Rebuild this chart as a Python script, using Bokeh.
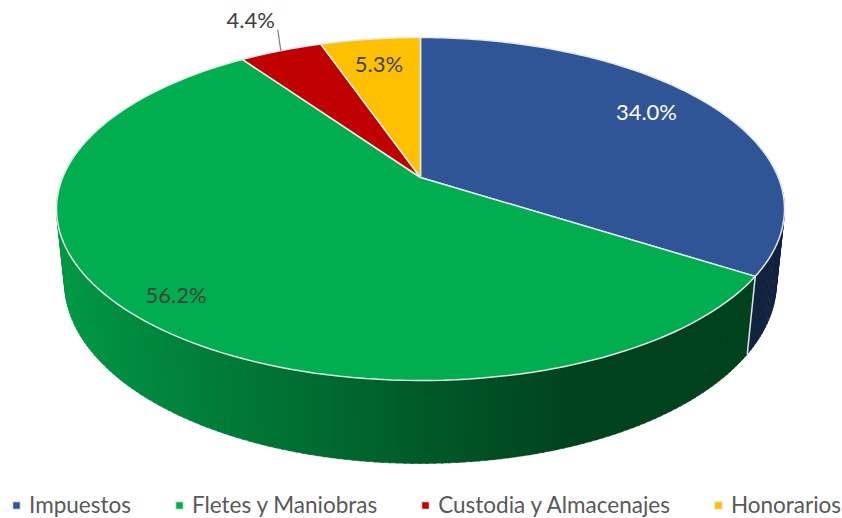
import numpy as np
from bokeh.plotting import figure
from bokeh.models import Range1d, Legend, LegendItem, ColumnDataSource
from bokeh.core.properties import value
from bokeh.embed import file_html
from bokeh.resources import INLINE

categories = ["Impuestos", "Fletes y Maniobras", "Custodia y Almacenajes", "Honorarios"]
shares = [34.0, 56.2, 4.4, 5.3]
share_labels = ["34.0%", "56.2%", "4.4%", "5.3%"]
colors = ["#2F5597", "#00AE4F", "#C00000", "#FFC000"]

# perspective model of the tilted disc (page pixels)
CX, CY = 420.0, 177.0
A, B, K = 165.7, 357.8, 0.1837
DROP, M = 74.0, 0.022
FONT = "Lato"


def proj(theta, r=1.0, z=0.0):
    u, v = r * np.sin(theta), r * np.cos(theta)
    w = 1 + K * v + M * z
    return CX + B * u / w, CY - (A * v - DROP * z) / w


fracs = np.array(shares) / sum(shares)
edges = np.concatenate([[0], np.cumsum(fracs)]) * 2 * np.pi

p = figure(width=842, height=518, x_range=Range1d(0, 842), y_range=Range1d(518, 0),
           toolbar_location=None, output_backend="svg", min_border=0,
           outline_line_color=None, background_fill_color="white")
p.axis.visible = False
p.grid.visible = False

# side wall as shaded strips
shade_x = [-1.0, -0.8, -0.35, 0.0, 0.3, 0.45, 1.0]
shade_f = [0.88, 0.80, 0.64, 0.52, 0.42, 0.38, 0.38]
step = np.radians(1.0)
ths = np.arange(np.radians(70), np.radians(290), step)
sx, sy, sc = [], [], []
for t in ths:
    mid = (t + step / 2) % (2 * np.pi)
    i = min(int(np.searchsorted(edges, mid) - 1), 3)
    rgb = np.array([int(colors[i][j:j + 2], 16) for j in (1, 3, 5)], float)
    tt = np.array([t, t + step + 0.004])
    xt, yt = proj(tt)
    xb, yb = proj(tt, z=1.0)
    xm = (xt.mean() - CX) / 364.0
    f = np.interp(xm, shade_x, shade_f)
    if i == 0:
        f = 0.42
    c = (rgb * f).astype(int)
    col = "#%02x%02x%02x" % tuple(c)
    sx.append([xt[0], xt[1], xb[1], xb[0]])
    sy.append([yt[0], yt[1], yb[1], yb[0]])
    sc.append(col)
p.patches(sx, sy, fill_color=sc, line_color=sc, line_width=0.6)

# light seam on the wall between the first two slices
xs_, ys_ = proj(np.array([edges[1], edges[1]]), z=np.array([0.0, 1.0]))
p.line(xs_, ys_, line_color="#dfe8e8", line_width=1.5)

# top face
wx, wy = [], []
for i in range(4):
    t = np.linspace(edges[i], edges[i + 1], 120)
    x, y = proj(t)
    wx.append([CX] + list(x))
    wy.append([CY] + list(y))
src = ColumnDataSource(dict(xs=wx, ys=wy, color=colors))
top = p.patches("xs", "ys", source=src, fill_color="color", line_color="#e2eaea", line_width=1.5)

# data labels
mids = (edges[:-1] + edges[1:]) / 2
label_r = [0.78, 0.87, None, 0.78]
label_nudge = [(-3, -8), (-1, -1), (0, -1), (-1, -2)]
label_col = ["#ffffff", "#404040", "#404040", "#404040"]
for i, txt in enumerate(share_labels):
    if label_r[i] is None:
        rx, ry = proj(mids[i])
        lx, ly = rx - 30, ry - 30
        p.line([rx, rx - 3], [ry, ry - 21], line_color="#7f7f7f", line_width=1.2)
    else:
        lx, ly = proj(mids[i], r=label_r[i])
    lx, ly = lx + label_nudge[i][0], ly + label_nudge[i][1]
    p.text([lx], [ly], text=[txt], text_align="center", text_baseline="middle",
           text_color=label_col[i], text_font=value(FONT), text_font_size="22px")

items = [LegendItem(label=c, renderers=[top], index=i) for i, c in enumerate(categories)]
legend = Legend(items=items, orientation="horizontal", location=(11, 0), margin=0, padding=0,
                spacing=43, glyph_width=10, glyph_height=10, label_standoff=8,
                label_text_font=FONT, label_text_font_size="22.5px", label_text_color="#595959",
                border_line_color=None, background_fill_alpha=0, label_height=20)
p.add_layout(legend, "center")

open("out.html", "w").write(file_html(p, INLINE))
